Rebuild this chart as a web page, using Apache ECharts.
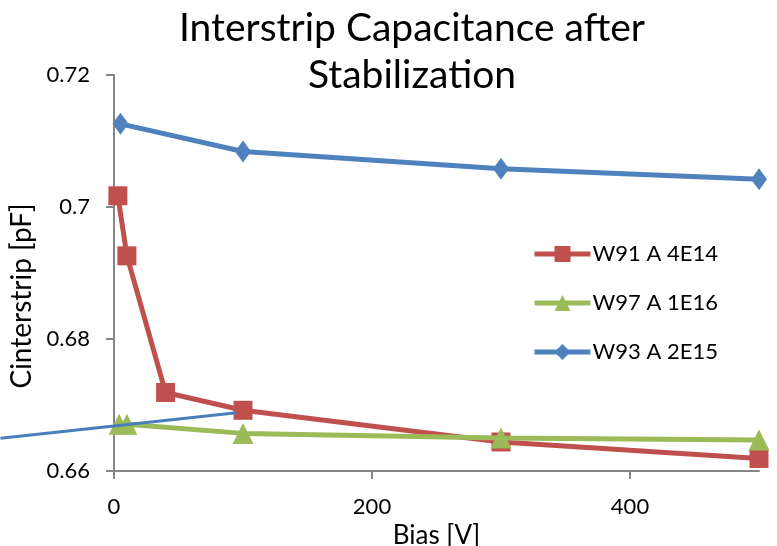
<!DOCTYPE html>
<html>
<head>
<meta charset="utf-8">
<title>Interstrip Capacitance after Stabilization</title>
<script src="https://cdn.jsdelivr.net/npm/echarts@6.0.0/dist/echarts.min.js"></script>
<style>
  html, body { margin: 0; padding: 0; background: #ffffff; overflow: hidden; }
  #chart { width: 777px; height: 546px; }
</style>
</head>
<body>
<div id="chart"></div>
<script>
// Bias voltage [V] and interstrip capacitance [pF] per sensor
const biasW91 = [3, 10, 40, 100, 300, 500];
const capW91 = [0.7017, 0.6926, 0.6719, 0.6692, 0.6644, 0.6619];

const biasW97 = [4, 10, 100, 300, 500];
const capW97 = [0.6671, 0.6671, 0.6657, 0.6650, 0.6647];

const biasW93 = [5, 100, 300, 500];
const capW93 = [0.7126, 0.7084, 0.7058, 0.7042];

// Thin straight reference line; it starts left of the plot area
const guideBias = [-88, 95];
const guideCap = [0.66495, 0.66883];

const seriesNames = ['W91 A 4E14', 'W97 A 1E16', 'W93 A 2E15'];
const yTicks = [0.66, 0.68, 0.70, 0.72];
const xTicks = [0, 200, 400];

const FONT = 'Lato';
const pairs = (xs, ys) => xs.map((x, i) => [x, ys[i]]);

// Plot area geometry (px) and the bias range shown in it
const PLOT_LEFT = 114, PLOT_WIDTH = 645, PLOT_TOP = 75, PLOT_HEIGHT = 396;
const X_MIN = 0, X_MAX = 500;
// A hidden companion x axis with the same scale, extended to the chart's left edge
const pxPerVolt = PLOT_WIDTH / (X_MAX - X_MIN);
const X_MIN_EXT = X_MIN - PLOT_LEFT / pxPerVolt;

const chart = echarts.init(document.getElementById('chart'), null, { renderer: 'canvas' });

chart.setOption({
  backgroundColor: '#ffffff',
  animation: false,
  title: {
    text: 'Interstrip Capacitance after\nStabilization',
    left: 407,
    top: 0,
    textAlign: 'center',
    textStyle: {
      fontFamily: FONT,
      fontSize: 39,
      fontWeight: 'normal',
      color: '#000000',
      lineHeight: 47
    }
  },
  legend: {
    data: seriesNames,
    orient: 'vertical',
    left: 527,
    top: 238,
    itemGap: 27,
    itemWidth: 56,
    itemHeight: 20,
    lineStyle: { width: 5 },
    textStyle: { fontFamily: FONT, fontSize: 22, color: '#000000', padding: [0, 0, 0, -3] }
  },
  grid: [
    { left: PLOT_LEFT, width: PLOT_WIDTH, top: PLOT_TOP, height: PLOT_HEIGHT, containLabel: false, outerBoundsMode: 'none' },
    { left: 0, width: PLOT_LEFT + PLOT_WIDTH, top: PLOT_TOP, height: PLOT_HEIGHT, containLabel: false, outerBoundsMode: 'none' }
  ],
  xAxis: [
    {
      type: 'value',
      gridIndex: 0,
      min: X_MIN,
      max: X_MAX,
      interval: 200,
      name: 'Bias [V]',
      nameLocation: 'middle',
      nameGap: 45,
      nameTextStyle: { fontFamily: FONT, fontSize: 26, color: '#000000' },
      axisLine: { show: true, onZero: false, lineStyle: { color: '#868686', width: 2 } },
      axisTick: { show: true, length: 8, customValues: xTicks, lineStyle: { color: '#868686', width: 2 } },
      axisLabel: { customValues: xTicks, margin: 25, fontFamily: FONT, fontSize: 22, color: '#000000' },
      splitLine: { show: false }
    },
    {
      type: 'value',
      gridIndex: 1,
      min: X_MIN_EXT,
      max: X_MAX,
      show: false,
      splitLine: { show: false }
    }
  ],
  yAxis: [
    {
      type: 'value',
      gridIndex: 0,
      min: yTicks[0],
      max: yTicks[yTicks.length - 1],
      interval: 0.02,
      name: 'Cinterstrip [pF]',
      nameLocation: 'middle',
      nameGap: 72,
      nameRotate: 90,
      nameTextStyle: { fontFamily: FONT, fontSize: 28, color: '#000000', padding: [0, 46, 0, 0] },
      axisLine: { show: true, onZero: false, lineStyle: { color: '#868686', width: 2 } },
      axisTick: { show: true, length: 8, lineStyle: { color: '#868686', width: 2 } },
      axisLabel: {
        margin: 24,
        fontFamily: FONT,
        fontSize: 22,
        color: '#000000',
        formatter: v => String(+v.toFixed(2))
      },
      splitLine: { show: false }
    },
    {
      type: 'value',
      gridIndex: 1,
      min: yTicks[0],
      max: yTicks[yTicks.length - 1],
      show: false,
      splitLine: { show: false }
    }
  ],
  series: [
    {
      name: seriesNames[0],
      type: 'line',
      data: pairs(biasW91, capW91),
      clip: false,
      symbol: 'rect',
      symbolSize: 19,
      lineStyle: { color: '#C0504D', width: 5 },
      itemStyle: { color: '#C0504D' },
      z: 2
    },
    {
      name: seriesNames[1],
      type: 'line',
      data: pairs(biasW97, capW97),
      clip: false,
      symbol: 'triangle',
      symbolSize: [21, 21],
      lineStyle: { color: '#9BBB59', width: 5 },
      itemStyle: { color: '#9BBB59' },
      z: 3
    },
    {
      name: seriesNames[2],
      type: 'line',
      data: pairs(biasW93, capW93),
      clip: false,
      symbol: 'diamond',
      symbolSize: [16, 22],
      lineStyle: { color: '#4F81BD', width: 5 },
      itemStyle: { color: '#4F81BD' },
      z: 4
    },
    {
      name: 'guide',
      type: 'line',
      xAxisIndex: 1,
      yAxisIndex: 1,
      data: pairs(guideBias, guideCap),
      clip: false,
      symbol: 'none',
      silent: true,
      lineStyle: { color: '#4A7EBB', width: 3 },
      z: 5
    }
  ]
});
</script>
</body>
</html>
